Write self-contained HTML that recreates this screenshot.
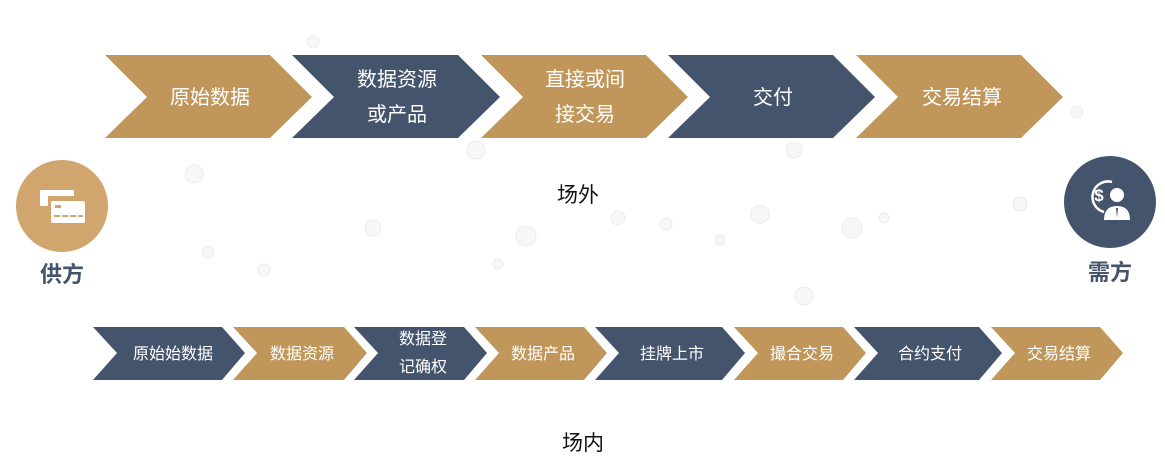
<!DOCTYPE html>
<html><head><meta charset="utf-8"><style>
html,body{margin:0;padding:0;background:#fff;}
svg{display:block;font-family:"Liberation Sans","Noto Sans CJK SC",sans-serif;}
</style></head><body>
<svg width="1165" height="465" viewBox="0 0 1165 465" xmlns="http://www.w3.org/2000/svg">
<g fill="#f7f7f7" stroke="#ececec">
<circle cx="194" cy="174" r="9"/><circle cx="208" cy="252" r="6"/><circle cx="264" cy="270" r="6"/>
<circle cx="313" cy="42" r="6"/><circle cx="476" cy="150" r="9"/><circle cx="526" cy="236" r="10"/>
<circle cx="618" cy="218" r="7"/><circle cx="666" cy="224" r="6"/><circle cx="760" cy="214" r="9"/>
<circle cx="794" cy="150" r="8"/><circle cx="852" cy="228" r="10"/><circle cx="884" cy="218" r="5"/>
<circle cx="1020" cy="204" r="7"/><circle cx="1077" cy="112" r="6"/><circle cx="804" cy="296" r="9"/>
<circle cx="720" cy="240" r="5"/><circle cx="373" cy="228" r="8"/><circle cx="498" cy="264" r="5"/>
</g>
<g fill="#C0965A"><polygon points="105,55 270,55 312,97 270,138 105,138 147,97"/>
<polygon points="481,55 646,55 688,97 646,138 481,138 523,97"/>
<polygon points="856,55 1021,55 1063,97 1021,138 856,138 898,97"/></g>
<g fill="#44546C"><polygon points="292,55 458,55 500,97 458,138 292,138 334,97"/>
<polygon points="668,55 833,55 875,97 833,138 668,138 710,97"/></g>
<g fill="#fff" font-size="20" text-anchor="middle">
<text x="210" y="104">原始数据</text>
<text x="397" y="86">数据资源</text><text x="397" y="121">或产品</text>
<text x="585" y="86">直接或间</text><text x="585" y="121">接交易</text>
<text x="773" y="104">交付</text>
<text x="962" y="104">交易结算</text>
</g>
<text x="578" y="202" font-size="21" text-anchor="middle" fill="#111">场外</text>
<text x="583" y="450" font-size="21" text-anchor="middle" fill="#111">场内</text>
<g>
<polygon fill="#44546C" points="93,327 222,327 245,353 222,380 93,380 117,353"/>
<polygon fill="#C0965A" points="233,327 344,327 367,353 344,380 233,380 257,353"/>
<polygon fill="#44546C" points="354,327 464,327 487,353 464,380 354,380 378,353"/>
<polygon fill="#C0965A" points="475,327 584,327 607,353 584,380 475,380 499,353"/>
<polygon fill="#44546C" points="595,327 722,327 745,353 722,380 595,380 619,353"/>
<polygon fill="#C0965A" points="734,327 843,327 866,353 843,380 734,380 758,353"/>
<polygon fill="#44546C" points="854,327 979,327 1002,353 979,380 854,380 878,353"/>
<polygon fill="#C0965A" points="991,327 1100,327 1123,353 1100,380 991,380 1015,353"/>
</g>
<g fill="#fff" font-size="16" text-anchor="middle">
<text x="173" y="359">原始始数据</text>
<text x="302" y="359">数据资源</text>
<text x="423" y="344">数据登</text><text x="423" y="372">记确权</text>
<text x="543" y="359">数据产品</text>
<text x="672" y="359">挂牌上市</text>
<text x="802" y="359">撮合交易</text>
<text x="930" y="359">合约支付</text>
<text x="1059" y="359">交易结算</text>
</g>
<circle cx="62" cy="206" r="46" fill="#D0A66E"/>
<g fill="#fff"><rect x="40" y="190" width="34" height="6" rx="1"/><rect x="40" y="190" width="8" height="16" rx="1"/>
<rect x="51" y="201" width="34" height="22" rx="2"/></g>
<g fill="#D0A66E"><rect x="55" y="205" width="6" height="3"/><rect x="54" y="215" width="6" height="2"/><rect x="62" y="215" width="6" height="2"/><rect x="70" y="215" width="6" height="2"/><rect x="78" y="215" width="5" height="2"/></g>
<text x="62" y="282" font-size="22" font-weight="bold" text-anchor="middle" fill="#44546C">供方</text>
<circle cx="1110" cy="202" r="46" fill="#44546C"/>
<g stroke="#fff" stroke-width="2.5" fill="none"><path d="M1112,182 A15,15 0 1 0 1104,212"/></g>
<text x="1099" y="201" font-size="17" font-weight="bold" fill="#fff" text-anchor="middle">$</text>
<circle cx="1117" cy="195" r="7" fill="#fff"/>
<path d="M1104,220 Q1104,206 1117,206 Q1130,206 1130,220 Z" fill="#fff"/>
<path d="M1116,208 L1118,208 L1117,218 Z" fill="#44546C"/>
<text x="1110" y="280" font-size="22" font-weight="bold" text-anchor="middle" fill="#44546C">需方</text>
</svg>
</body></html>
